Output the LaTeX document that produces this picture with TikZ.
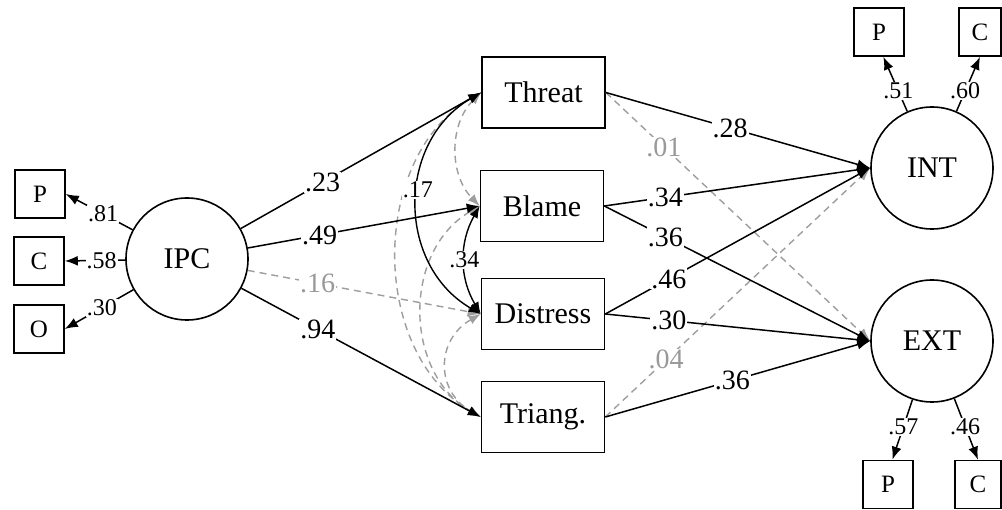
\documentclass[tikz,border=0pt]{standalone}
\usepackage{fontspec}
\setmainfont{Liberation Serif}
\usetikzlibrary{arrows.meta}
\definecolor{greyline}{gray}{0.62}
\definecolor{greytext}{gray}{0.6}
\tikzset{
  lv/.style={circle, draw, line width=1.6pt, minimum size=122pt, inner sep=0pt, font=\fontsize{30}{31}\selectfont},
  med/.style={rectangle, draw, line width=1.6pt, minimum width=123pt, minimum height=71pt, inner sep=0pt, font=\fontsize{30}{31}\selectfont},
  ind/.style={rectangle, draw, line width=1.6pt, minimum width=50pt, minimum height=48pt, inner sep=0pt, font=\fontsize{25}{26}\selectfont},
  arr/.style={-{Latex[length=13pt,width=10pt]}, line width=1.5pt},
  garr/.style={-{Latex[length=13pt,width=10pt]}, line width=1.4pt, draw=greyline, dash pattern=on 7pt off 5pt},
  cov/.style={{Latex[length=12pt,width=9pt]}-{Latex[length=12pt,width=9pt]}, line width=1.4pt},
  gcov/.style={{Latex[length=12pt,width=9pt]}-{Latex[length=12pt,width=9pt]}, line width=1.4pt, draw=greyline, dash pattern=on 7pt off 5pt},
  lbl/.style={fill=white, inner sep=1pt, font=\fontsize{28}{29}\selectfont},
  glbl/.style={fill=white, inner sep=1pt, text=greytext, font=\fontsize{28}{29}\selectfont},
  slbl/.style={fill=white, inner sep=1pt, font=\fontsize{24}{25}\selectfont},
}
\begin{document}
\begin{tikzpicture}[x=1pt, y=-1pt]
\useasboundingbox[fill=white] (0,0) rectangle (1002,510);

% latent variables
\node[lv] (IPC) at (187,259) {IPC};
\node[lv] (INT) at (932,168) {INT};
\node[lv] (EXT) at (932,341) {EXT};

% IPC indicators
\node[ind] (P1) at (40,194) {P};
\node[ind] (C1) at (39,261) {C};
\node[ind] (O1) at (39,329) {O};

% outcome indicators
\node[ind] (P2) at (879,32) {P};
\node[ind, minimum width=42pt] (C2) at (980,32) {C};
\node[ind] (P3) at (888,484.5) {P};
\node[ind, minimum width=46pt] (C3) at (978,484.5) {C};

% mediators
\node[med] (Threat) at (543.5,92.5) {Threat};
\node[med] (Blame) at (542,206) {Blame};
\node[med] (Distress) at (543,314) {Distress};
\node[med] (Triang) at (543,417) {Triang.};

% grey covariances
\draw[gcov] (Threat.west) to[bend right=45] (Blame.west);
\draw[gcov] (Threat.west) to[bend right=60, looseness=1.02] (Triang.west);
\draw[gcov] (Blame.west) to[bend right=60, looseness=1.08] (Triang.west);
\draw[gcov] (Distress.west) to[bend right=60, looseness=1.3] (Triang.west);

% grey paths
\draw[garr] (IPC) -- node[glbl, pos=0.3] {.16} (Distress.west);
\draw[garr] (Threat.east) -- node[glbl, pos=0.22] {.01} (EXT.west);
\draw[garr] (Triang.east) -- node[glbl, pos=0.23] {.04} (INT.west);

% black covariances
\draw[cov] (Threat.west) to[bend right=60, looseness=1.13] node[slbl, pos=0.45] {.17} (Distress.west);
\draw[cov] (Blame.west) to[bend right=30] node[slbl, pos=0.5] {.34} (Distress.west);

% IPC loadings
\draw[arr] (IPC) -- node[slbl, pos=0.44] {.81} (P1.east);
\draw[arr] (IPC) -- node[slbl, pos=0.39] {.58} (C1.east);
\draw[arr] (IPC) -- node[slbl, pos=0.46] {.30} (O1.east);

% IPC to mediators
\draw[arr] (IPC) -- node[lbl, pos=0.34] {.23} (Threat.west);
\draw[arr] (IPC) -- node[lbl, pos=0.31] {.49} (Blame.west);
\draw[arr] (IPC) -- node[lbl, pos=0.32] {.94} (Triang.west);

% mediators to outcomes
\draw[arr] (Threat.east) -- node[lbl, pos=0.47] {.28} (INT.west);
\draw[arr] (Blame.east) -- node[lbl, pos=0.23] {.34} (INT.west);
\draw[arr] (Blame.east) -- node[lbl, pos=0.23] {.36} (EXT.west);
\draw[arr] (Distress.east) -- node[lbl, pos=0.24] {.46} (INT.west);
\draw[arr] (Distress.east) -- node[lbl, pos=0.24] {.30} (EXT.west);
\draw[arr] (Triang.east) -- node[lbl, pos=0.48] {.36} (EXT.west);

% outcome loadings
\draw[arr] (INT) -- node[slbl, pos=0.37] {.51} (P2.-80);
\draw[arr] (INT) -- node[slbl, pos=0.37] {.60} (C2.south);
\draw[arr] (EXT) -- node[slbl, pos=0.45] {.57} (P3.80);
\draw[arr] (EXT) -- node[slbl, pos=0.46] {.46} (C3.north);
\end{tikzpicture}
\end{document}
